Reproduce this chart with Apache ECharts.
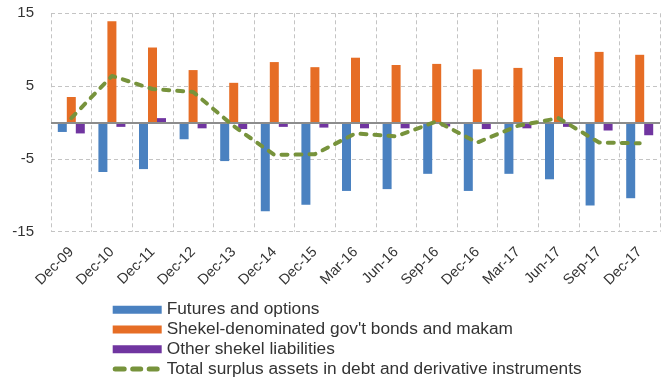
<!DOCTYPE html>
<html><head><meta charset="utf-8">
<script src="https://cdn.jsdelivr.net/npm/echarts@6/dist/echarts.min.js"></script>
<style>html,body{margin:0;padding:0;background:#fff}#c{width:662px;height:381px}</style>
</head><body><div id="c"></div>
<script>
const categories = ['Dec-09','Dec-10','Dec-11','Dec-12','Dec-13','Dec-14','Dec-15','Mar-16','Jun-16','Sep-16','Dec-16','Mar-17','Jun-17','Sep-17','Dec-17'];
const futuresOptions = [-1.3,-6.8,-6.4,-2.3,-5.3,-12.2,-11.3,-9.4,-9.15,-7.05,-9.4,-7.05,-7.8,-11.4,-10.4];
const shekelBonds = [3.5,13.9,10.3,7.2,5.45,8.3,7.6,8.9,7.9,8.05,7.3,7.5,9.0,9.7,9.3];
const otherLiabilities = [-1.5,-0.6,0.6,-0.8,-0.9,-0.6,-0.7,-0.8,-0.8,-0.55,-0.9,-0.8,-0.6,-1.1,-1.75];
const totalSurplus = [0.6,6.4,4.6,4.2,-0.5,-4.45,-4.35,-1.5,-1.9,0.15,-2.75,-0.45,0.6,-2.75,-2.85];
const yTicks = { min: -15, max: 15, interval: 10 };

const chart = echarts.init(document.getElementById('c'), null, {renderer:'canvas'});
const font = 'Liberation Sans, Arial, sans-serif';
function dash(a, b) {
  const r = 2.5, y1 = 1.5, y2 = 6.5;
  return 'M' + (a + r) + ',' + y1 + 'H' + (b - r) + 'A' + r + ',' + r + ' 0 0 1 ' + (b - r) + ',' + y2 +
         'H' + (a + r) + 'A' + r + ',' + r + ' 0 0 1 ' + (a + r) + ',' + y1 + 'Z';
}
const dashIcon = 'path://M0,0L0,0' + dash(0, 14) + dash(17.5, 30.5) + dash(34, 47) + 'M49,8L49,8';
chart.setOption({
  animation: false,
  backgroundColor: '#fff',
  grid: { left: 51, right: 2, top: 13.3, bottom: 149.3, containLabel: false },
  legend: {
    orient: 'vertical', left: 112.7, top: 299.8, padding: 0, height: 82,
    itemWidth: 49, itemHeight: 8, itemGap: 0,
    textStyle: { fontFamily: font, fontSize: 17.3, color: '#333', lineHeight: 19.8 },
    data: [
      { name: 'Futures and options', icon: 'rect' },
      { name: "Shekel-denominated gov't bonds and makam", icon: 'rect' },
      { name: 'Other shekel liabilities', icon: 'rect' },
      { name: 'Total surplus assets in debt and derivative instruments', icon: dashIcon }
    ]
  },
  xAxis: {
    type: 'category', data: categories, boundaryGap: true,
    axisLine: { show: false, onZero: false },
    axisTick: { show: false },
    axisLabel: { rotate: 45, fontFamily: font, fontSize: 14.5, color: '#333', margin: 18, interval: 0 },
    splitLine: { show: true, lineStyle: { color: '#c4c4c4', type: [4,3], width: 1 } }
  },
  yAxis: {
    type: 'value', min: yTicks.min, max: yTicks.max, interval: yTicks.interval,
    axisLine: { show: false }, axisTick: { show: false },
    axisLabel: { fontFamily: font, fontSize: 15, color: '#333', margin: 17 },
    splitLine: { show: true, lineStyle: { color: '#c4c4c4', type: [4,3], width: 1 } }
  },
  series: [
    { name: 'Futures and options', type: 'bar', data: futuresOptions, barWidth: 9, barGap: '0%',
      itemStyle: { color: '#4A81C0' },
      markLine: { silent: true, symbol: 'none', label: { show: false },
        lineStyle: { color: '#8c8c8c', type: 'solid', width: 2 }, data: [{ yAxis: 0 }] } },
    { name: "Shekel-denominated gov't bonds and makam", type: 'bar', data: shekelBonds, barWidth: 9, barGap: '0%',
      itemStyle: { color: '#E66D25' } },
    { name: 'Other shekel liabilities', type: 'bar', data: otherLiabilities, barWidth: 9, barGap: '0%',
      itemStyle: { color: '#7035A0' } },
    { name: 'Total surplus assets in debt and derivative instruments', type: 'line', data: totalSurplus,
      symbol: 'none', z: 5,
      itemStyle: { color: '#77933C' },
      lineStyle: { color: '#77933C', width: 4, type: [6,8], cap: 'round', join: 'round' } }
  ]
});
</script></body></html>
